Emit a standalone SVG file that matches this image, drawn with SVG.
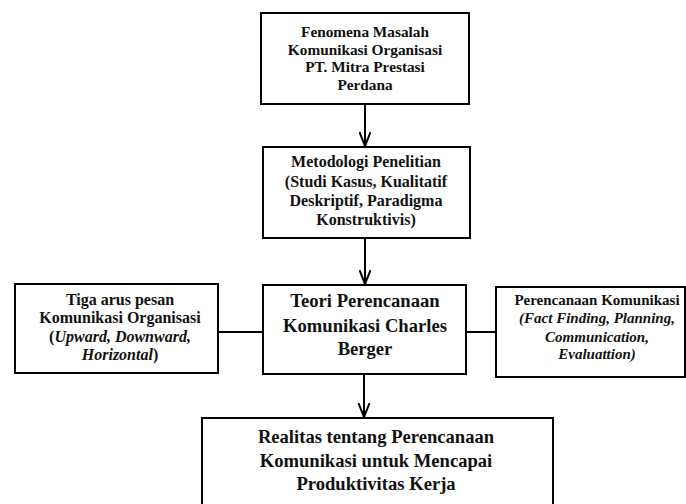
<svg xmlns="http://www.w3.org/2000/svg" width="686" height="504" viewBox="0 0 686 504">
<defs>
<style>
.box{fill:#fff;stroke:#000;stroke-width:2}
.t{font-family:"Liberation Serif","Times New Roman",serif;font-weight:bold;fill:#111;text-anchor:middle}
.s{font-size:15.3px}
.m{font-size:16px}
.lf{font-size:16px}
.rf{font-size:15px}
.l{font-size:18.6px}
.i{font-style:italic}
.c{stroke:#000;stroke-width:2;fill:none}
</style>
<marker id="ah" viewBox="0 0 16 12" refX="15" refY="6" markerWidth="16" markerHeight="12" markerUnits="userSpaceOnUse" orient="auto">
<path d="M1,0.5 L15,6 L1,11.5" fill="none" stroke="#000" stroke-width="2"/>
</marker>
</defs>
<rect width="686" height="504" fill="#fff"/>
<g id="connectors">
<line class="c" x1="365" y1="104" x2="365" y2="146" marker-end="url(#ah)"/>
<line class="c" x1="365" y1="238" x2="365" y2="284" marker-end="url(#ah)"/>
<line class="c" x1="364" y1="374" x2="364" y2="417" marker-end="url(#ah)"/>
<line class="c" x1="218" y1="332" x2="263" y2="332"/>
<line class="c" x1="466" y1="332" x2="496" y2="332"/>
</g>
<g id="n1">
<rect class="box" x="261" y="13" width="208" height="91"/>
<text class="t s" x="365" y="37">Fenomena Masalah</text>
<text class="t s" x="365" y="55">Komunikasi Organisasi</text>
<text class="t s" x="365" y="72">PT. Mitra Prestasi</text>
<text class="t s" x="365" y="90">Perdana</text>
</g>
<g id="n2">
<rect class="box" x="263" y="147" width="207" height="91"/>
<text class="t m" x="366" y="167">Metodologi Penelitian</text>
<text class="t m" x="366" y="187">(Studi Kasus, Kualitatif</text>
<text class="t m" x="366" y="206">Deskriptif, Paradigma</text>
<text class="t m" x="366" y="225">Konstruktivis)</text>
</g>
<g id="n3">
<rect class="box" x="263" y="285" width="203" height="89"/>
<text class="t l" x="365" y="307">Teori Perencanaan</text>
<text class="t l" x="365" y="332">Komunikasi Charles</text>
<text class="t l" x="365" y="355">Berger</text>
</g>
<g id="n4">
<rect class="box" x="15" y="284" width="203" height="89"/>
<text class="t lf" x="120" y="305">Tiga arus pesan</text>
<text class="t lf" x="120" y="323">Komunikasi Organisasi</text>
<text class="t lf" x="120" y="342">(<tspan class="i">Upward, Downward,</tspan></text>
<text class="t lf" x="120" y="360"><tspan class="i">Horizontal</tspan>)</text>
</g>
<g id="n5">
<rect class="box" x="496" y="287" width="189" height="90"/>
<text class="t rf" x="597" y="305">Perencanaan Komunikasi</text>
<text class="t rf i" x="597" y="323">(Fact Finding, Planning,</text>
<text class="t rf i" x="597" y="342">Communication,</text>
<text class="t rf i" x="597" y="359">Evaluattion)</text>
</g>
<g id="n6">
<rect class="box" x="202" y="418" width="351" height="100"/>
<text class="t l" x="376" y="443">Realitas tentang Perencanaan</text>
<text class="t l" x="376" y="467">Komunikasi untuk Mencapai</text>
<text class="t l" x="376" y="490">Produktivitas Kerja</text>
</g>
</svg>
